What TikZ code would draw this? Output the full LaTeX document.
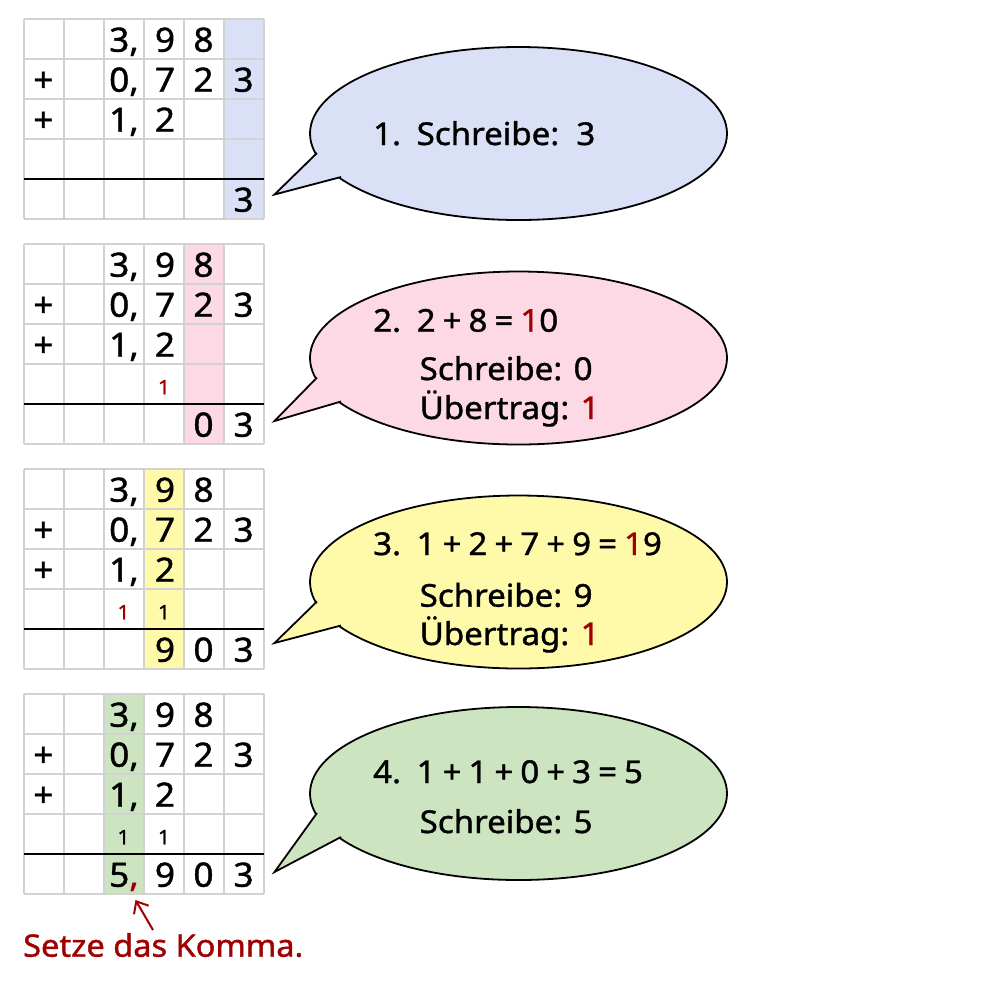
\documentclass[tikz,border=0pt]{standalone}
\usepackage{fontspec}
\setmainfont{Noto Sans}[FakeBold=1.2,FakeStretch=1.05]
\usetikzlibrary{arrows.meta,shapes.geometric,calc}
\definecolor{cblue}{RGB}{218,224,246}
\definecolor{cpink}{RGB}{253,217,230}
\definecolor{cyell}{RGB}{255,250,170}
\definecolor{cgreen}{RGB}{204,228,192}
\definecolor{dred}{RGB}{160,0,0}
\definecolor{gridgray}{RGB}{210,210,210}
\newcommand\digfont{\fontsize{33.5}{38}\selectfont}
\newcommand\txtfont{\fontsize{31.5}{36}\selectfont}
\newcommand\carryfont{\fontsize{20}{24}\selectfont}
\newcommand\es{\hspace{7pt}}
\newcommand\mygrid[3]{%
  \fill[#3] ({24+40*(#2-1)},#1) rectangle ++(40,200);
  \foreach \k in {0,...,6} \draw[gridline] ({24+40*\k},#1) -- ++(0,200);
  \foreach \k in {0,1,2,3,5} \draw[gridline] (24,{#1+40*\k}) -- ++(240,0);
  \draw[sumline] (24,{#1+160}) -- ++(240,0);
}
\newcommand\operands[2]{%
  \node[dig,anchor=base west] (#1-r1c3) at (109,{#2+32.7}) {3,};
  \node[dig] (#1-r1c4) at (165,{#2+32.7}) {9};
  \node[dig] (#1-r1c5) at (203.5,{#2+32.7}) {8};
  \node[dig] (#1-r2c1) at (43.5,{#2+72.7}) {+};
  \node[dig,anchor=base west] (#1-r2c3) at (109,{#2+72.7}) {0,};
  \node[dig] (#1-r2c4) at (165,{#2+72.7}) {7};
  \node[dig] (#1-r2c5) at (203.5,{#2+72.7}) {2};
  \node[dig] (#1-r2c6) at (243.5,{#2+72.7}) {3};
  \node[dig] (#1-r3c1) at (43.5,{#2+112.7}) {+};
  \node[dig,anchor=base west] (#1-r3c3) at (109,{#2+112.7}) {1,};
  \node[dig] (#1-r3c4) at (165,{#2+112.7}) {2};
}
\newcommand\bubble[5]{%
  \node[bubbleshape,fill=#4] (#1) at (518.5,#3) {};
  \coordinate (#1u) at ($(#1.center)+(-201.5,19.5)$);
  \coordinate (#1l) at ($(#1.center)+(-177.5,43.5)$);
  \coordinate (#1t) at ($(#1.center)+(-244,#5)$);
  \coordinate (#1ui) at ($(#1u)!5pt!(#1.center)$);
  \coordinate (#1li) at ($(#1l)!5pt!(#1.center)$);
  \fill[#4] (#1t) -- (#1u) -- (#1ui) -- (#1li) -- (#1l) -- cycle;
  \draw[bubbleline] (#1u) -- (#1t) -- (#1l);
}
\begin{document}
\begin{tikzpicture}[x=1pt,y=-1pt,
  gridline/.style={draw=gridgray,line width=1.3pt},
  sumline/.style={draw=black,line width=2.2pt},
  dig/.style={font=\digfont,inner sep=0pt,anchor=base},
  carry/.style={font=\carryfont,inner sep=0pt,anchor=base},
  txt/.style={font=\txtfont,inner sep=0pt,anchor=base west},
  bubbleshape/.style={ellipse,draw=black,line width=1.8pt,minimum width=417pt,minimum height=173pt,inner sep=0pt},
  bubbleline/.style={draw=black,line width=1.8pt}]
\useasboundingbox (0,0) rectangle (1000,989);
\fill[white] (0,0) rectangle (1000,989);
% ---------- grid 1
\mygrid{19}{6}{cblue}
\operands{ga}{19}
\node[dig] (ga-r5c6) at (243.5,{19+192.7}) {3};
% ---------- grid 2
\mygrid{244}{5}{cpink}
\operands{gb}{244}
\node[carry,text=dred] (gb-r4c4) at (164,{244+150.3}) {1};
\node[dig] (gb-r5c5) at (203.5,{244+192.7}) {0};
\node[dig] (gb-r5c6) at (243.5,{244+192.7}) {3};
% ---------- grid 3
\mygrid{469}{4}{cyell}
\operands{gc}{469}
\node[carry,text=dred] (gc-r4c3) at (123.5,{469+150.3}) {1};
\node[carry] (gc-r4c4) at (164,{469+150.3}) {1};
\node[dig] (gc-r5c4) at (165,{469+192.7}) {9};
\node[dig] (gc-r5c5) at (203.5,{469+192.7}) {0};
\node[dig] (gc-r5c6) at (243.5,{469+192.7}) {3};
% ---------- grid 4
\mygrid{694}{3}{cgreen}
\operands{gd}{694}
\node[carry] (gd-r4c3) at (123.5,{694+150.3}) {1};
\node[carry] (gd-r4c4) at (164,{694+150.3}) {1};
\node[dig,anchor=base west] (gd-r5c3) at (109,{694+192.7}) {5\textcolor{dred}{,}};
\node[dig] (gd-r5c4) at (165,{694+192.7}) {9};
\node[dig] (gd-r5c5) at (203.5,{694+192.7}) {0};
\node[dig] (gd-r5c6) at (243.5,{694+192.7}) {3};
% ---------- arrow and note
\coordinate (arrS) at (153,930);
\coordinate (arrT) at (135.5,900);
\draw[dred,line width=2pt,-{Straight Barb[length=10pt,width=17pt]}] (arrS) -- (arrT);
\node[txt,font=\fontsize{31}{36}\selectfont,text=dred] (note) at (23,956.7) {Setze das Komma.};
% ---------- bubbles
\bubble{ba}{518.5}{133.5}{cblue}{61}
\node[txt] (ba-n) at (373,145) {1.};
\node[txt] (ba-t) at (416.5,145) {Schreibe:\ \ 3};
\bubble{bb}{518.5}{358}{cpink}{63}
\node[txt] (bb-n) at (373,331.7) {2.};
\node[txt] (bb-t1) at (416.5,331.7) {2\es+\es8\es=\es\textcolor{dred}{1}0};
\node[txt] (bb-t2) at (419.5,380) {Schreibe: 0};
\node[txt] (bb-t3) at (419.5,419) {Übertrag: \textcolor{dred}{1}};
\bubble{bc}{518.5}{582}{cyell}{61}
\node[txt] (bc-n) at (373,555) {3.};
\node[txt] (bc-t1) at (416.5,555) {1\es+\es2\es+\es7\es+\es9\es=\es\textcolor{dred}{1}9};
\node[txt] (bc-t2) at (419.5,606.7) {Schreibe: 9};
\node[txt] (bc-t3) at (419.5,645) {Übertrag: \textcolor{dred}{1}};
\bubble{bd}{518.5}{793.5}{cgreen}{78.5}
\node[txt] (bd-n) at (373,783) {4.};
\node[txt] (bd-t1) at (416.5,783) {1\es+\es1\es+\es0\es+\es3\es=\es5};
\node[txt] (bd-t2) at (419.5,833) {Schreibe: 5};
\end{tikzpicture}
\end{document}
